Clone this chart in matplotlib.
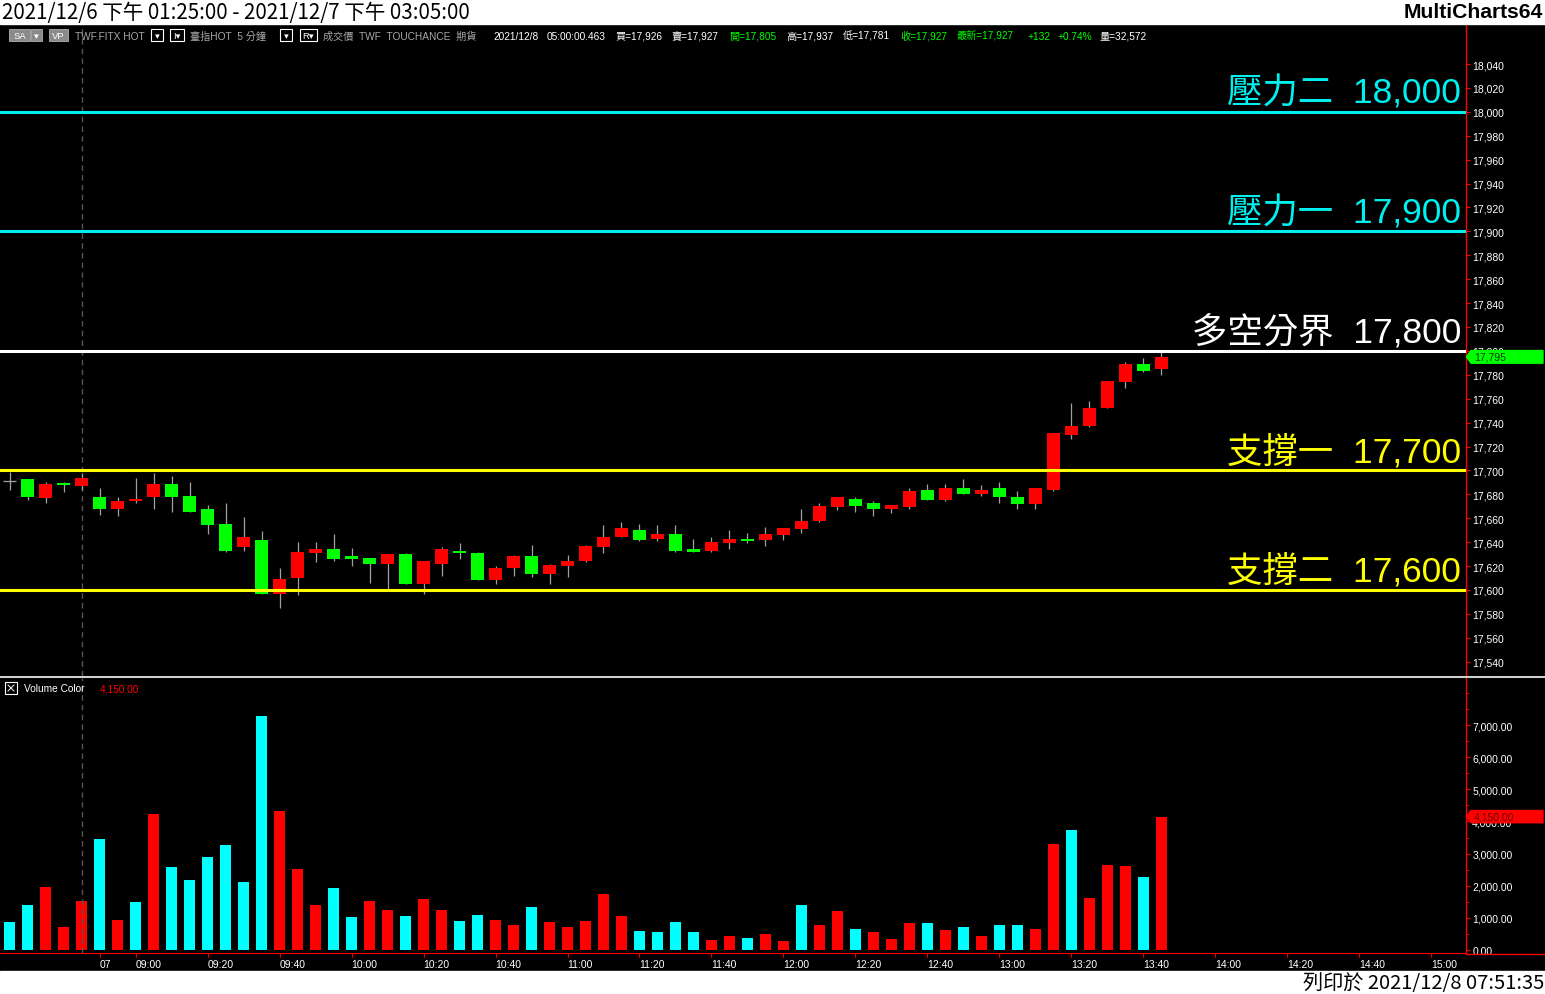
import matplotlib
matplotlib.use("Agg")
import matplotlib.pyplot as plt
from matplotlib.patches import Rectangle, Polygon
from matplotlib.ticker import MultipleLocator, FuncFormatter
from matplotlib.transforms import blended_transform_factory

# 5 分鐘 K 棒 (讀圖估計)
opens = [17691, 17693, 17677, 17689, 17687, 17678, 17668, 17674, 17678, 17689,
         17679, 17668, 17655, 17636, 17642, 17597, 17610, 17631, 17634, 17628,
         17627, 17622, 17630, 17605, 17622, 17633, 17631, 17608, 17618, 17628,
         17613, 17620, 17624, 17636, 17644, 17650, 17643, 17647, 17634, 17633,
         17639, 17643, 17642, 17646, 17651, 17658, 17669, 17676, 17673, 17668,
         17669, 17684, 17675, 17685, 17680, 17685, 17678, 17672, 17684, 17730,
         17737, 17752, 17774, 17789, 17785]
highs = [17699, 17693, 17690, 17690, 17698, 17685, 17678, 17694, 17698, 17695,
         17690, 17671, 17673, 17661, 17649, 17618, 17640, 17640, 17647, 17635,
         17627, 17630, 17631, 17624, 17636, 17639, 17632, 17620, 17629, 17638,
         17622, 17629, 17638, 17654, 17657, 17655, 17654, 17654, 17643, 17644,
         17650, 17648, 17653, 17652, 17668, 17673, 17678, 17678, 17674, 17671,
         17685, 17689, 17689, 17693, 17688, 17690, 17683, 17685, 17731, 17756,
         17758, 17775, 17791, 17794, 17799]
lows = [17684, 17675, 17673, 17682, 17684, 17663, 17662, 17673, 17668, 17665,
        17665, 17647, 17632, 17633, 17597, 17585, 17596, 17623, 17624, 17620,
        17606, 17601, 17605, 17597, 17612, 17626, 17608, 17605, 17612, 17611,
        17605, 17611, 17623, 17631, 17644, 17641, 17641, 17632, 17632, 17632,
        17634, 17639, 17637, 17642, 17648, 17657, 17667, 17665, 17662, 17664,
        17668, 17675, 17674, 17680, 17679, 17673, 17668, 17668, 17683, 17726,
        17736, 17752, 17769, 17782, 17780]
closes = [17691, 17678, 17689, 17688, 17694, 17668, 17674, 17676, 17689, 17678,
          17665, 17654, 17633, 17644, 17597, 17609, 17632, 17634, 17626, 17626,
          17622, 17630, 17605, 17624, 17634, 17631, 17608, 17618, 17628, 17613,
          17621, 17624, 17637, 17644, 17652, 17642, 17647, 17633, 17632, 17640,
          17643, 17641, 17647, 17652, 17658, 17670, 17678, 17670, 17668, 17671,
          17683, 17675, 17685, 17680, 17684, 17678, 17672, 17685, 17731, 17737,
          17752, 17775, 17789, 17783, 17795]

volumes = [870, 1400, 1960, 716, 1525, 3454, 933, 1493, 4232, 2582,
           2178, 2893, 3267, 2116, 7281, 4325, 2520, 1400, 1929, 1027,
           1525, 1245, 1058, 1587, 1245, 902, 1089, 933, 778, 1338,
           871, 716, 902, 1742, 1058, 591, 560, 871, 560, 311,
           436, 373, 498, 280, 1400, 778, 1213, 653, 560, 342,
           840, 840, 622, 716, 436, 778, 778, 653, 3298, 3734,
           1618, 2645, 2614, 2271, 4150]
# 1 = 紅量, 0 = 青量
vol_up = [0, 0, 1, 1, 1, 0, 1, 0, 1, 0,
          0, 0, 0, 0, 0, 1, 1, 1, 0, 0,
          1, 1, 0, 1, 1, 0, 0, 1, 1, 0,
          1, 1, 1, 1, 1, 0, 0, 0, 0, 1,
          1, 0, 1, 1, 0, 1, 1, 0, 1, 1,
          1, 0, 1, 0, 1, 0, 0, 1, 1, 0,
          1, 1, 1, 0, 1]

# 水平壓力 / 支撐
levels = [18000, 17900, 17800, 17700, 17600]
level_names = ['壓力二', '壓力一', '多空分界', '支撐一', '支撐二']
level_colors = ['#00F0F0', '#00F0F0', 'white', 'yellow', 'yellow']

# 時間軸: 第一根日盤 K 棒 (08:50) 的序號
day_start_idx = 5
day_start_min = 8 * 60 + 50
time_labels = ['09:00', '09:20', '09:40', '10:00', '10:20', '10:40', '11:00',
               '11:20', '11:40', '12:00', '12:20', '12:40', '13:00', '13:20',
               '13:40', '14:00', '14:20', '14:40', '15:00']

W, H, DPI = 1545, 995, 100
RED, GREEN, CYAN = '#FF0000', '#00FF00', '#00FFFF'
LATIN = ['Liberation Sans', 'Noto Sans CJK TC', 'DejaVu Sans']
CJK = ['Noto Sans CJK TC', 'DejaVu Sans']


def frect(x0, y0, x1, y1):
    # 像素框 (左上為原點) -> figure 比例
    return [x0 / W, 1 - y1 / H, (x1 - x0) / W, (y1 - y0) / H]


fig = plt.figure(figsize=(W / DPI, H / DPI), dpi=DPI, facecolor='black')
ax_p = fig.add_axes(frect(0, 25, 1466, 677), facecolor='black')
ax_v = fig.add_axes(frect(0, 679, 1466, 954), facecolor='black')

xmin, xmax = -0.53, 80.92

# K 棒
for i in range(len(opens)):
    o, h, l, c = opens[i], highs[i], lows[i], closes[i]
    ax_p.vlines(i, l, h, color='#A0A0A0', lw=0.9, zorder=2)
    if c == o:
        ax_p.hlines(c, i - 0.38, i + 0.38, color='#A0A0A0', lw=0.9, zorder=3)
        continue
    col = RED if c > o else GREEN
    ax_p.bar(i, max(abs(c - o), 1.6), bottom=min(o, c), width=0.72,
             color=col, linewidth=0, zorder=3)

# 壓力支撐線與標籤
for lv, name, col in zip(levels, level_names, level_colors):
    ax_p.axhline(lv, color=col, lw=2.2, zorder=4)
    ax_p.text(1461 / 1466, lv + 7.5, f'{name}  {lv:,}', color=col, fontsize=25.5,
              family=LATIN, ha='right', va='baseline',
              transform=blended_transform_factory(ax_p.transAxes, ax_p.transData),
              zorder=5)

ax_p.set_xlim(xmin, xmax)
ax_p.set_ylim(17528, 18073.5)
ax_p.yaxis.tick_right()
ax_p.set_yticks(range(17540, 18041, 20))
ax_p.yaxis.set_major_formatter(FuncFormatter(lambda v, p: f'{int(v):,}'))
ax_p.tick_params(axis='y', color=RED, labelcolor='white', length=3, pad=1.5,
                 labelsize=7.5)
ax_p.set_xticks([])
for lbl in ax_p.get_yticklabels():
    lbl.set_family(LATIN)

# 成交量
for i, v in enumerate(volumes):
    ax_v.bar(i, v, width=0.61, color=RED if vol_up[i] else CYAN, linewidth=0)
ax_v.set_xlim(xmin, xmax)
ax_v.set_ylim(-93, 8463)
ax_v.yaxis.tick_right()
ax_v.set_yticks(range(0, 7001, 1000))
ax_v.yaxis.set_minor_locator(MultipleLocator(500))
ax_v.yaxis.set_major_formatter(FuncFormatter(lambda v, p: f'{v:,.2f}'))
ax_v.tick_params(axis='y', which='both', color=RED, labelcolor='white',
                 length=3, pad=1.5, labelsize=7.5)
ax_v.tick_params(axis='y', which='minor', length=2)

tick_pos = [day_start_idx]
tick_txt = ['07']
for t in time_labels:
    hh, mm = t.split(':')
    tick_pos.append(day_start_idx + (int(hh) * 60 + int(mm) - day_start_min) / 5)
    tick_txt.append(t)
ax_v.set_xticks(tick_pos, tick_txt)
ax_v.tick_params(axis='x', color=RED, labelcolor='white', length=3, pad=1.5,
                 labelsize=7.5)
for lbl in ax_v.get_xticklabels() + ax_v.get_yticklabels():
    lbl.set_family(LATIN)

for lbl in ax_v.get_xticklabels():
    lbl.set_ha('left')

for ax in (ax_p, ax_v):
    for side in ('top', 'left', 'bottom'):
        ax.spines[side].set_visible(False)
    ax.spines['right'].set_color(RED)
    ax.spines['right'].set_linewidth(1)
    # 換日虛線
    ax.axvline(4, color='#555555', lw=1, ls=(0, (4, 3)), zorder=1)
ax_v.spines['bottom'].set_visible(True)
ax_v.spines['bottom'].set_color(RED)

# 覆蓋層: 標題列, 資訊列, 底部
ov = fig.add_axes([0, 0, 1, 1])
ov.set_xlim(0, W)
ov.set_ylim(H, 0)
ov.axis('off')
ov.patch.set_alpha(0)
ov.set_zorder(10)

# 最新價 / 最新量 標籤 (畫在覆蓋層, 蓋住刻度文字)
tp = blended_transform_factory(ax_p.transAxes, ax_p.transData)
last = closes[-1]
x0, x1, xa = 1 + 5 / 1466, 1 + 77 / 1466, 1 + 0.5 / 1466
ov.add_patch(Polygon([(xa, last), (x0, last + 5.3), (x1, last + 5.3),
                      (x1, last - 5.3), (x0, last - 5.3)], closed=True,
                     color=GREEN, clip_on=False, transform=tp, zorder=6))
ov.text(1 + 8 / 1466, last, f'{last:,}', color='#003300', fontsize=7.5,
        family=LATIN, va='center', transform=tp, clip_on=False, zorder=7)

tv = blended_transform_factory(ax_v.transAxes, ax_v.transData)
lv_ = volumes[-1]
ov.add_patch(Polygon([(xa, lv_), (x0, lv_ + 190), (x1, lv_ + 190),
                      (x1, lv_ - 190), (x0, lv_ - 190)], closed=True,
                     color=RED, clip_on=False, transform=tv, zorder=6))
ov.text(1 + 8 / 1466, lv_, f'{lv_:,.2f}', color='#660000', fontsize=7.5,
        family=LATIN, va='center', transform=tv, clip_on=False, zorder=7)

ov.add_patch(Rectangle((0, 0), W, 25, color='white'))
ov.add_patch(Rectangle((0, 972), W, 23, color='white'))
ov.text(2, 13, '2021/12/6 下午 01:25:00 - 2021/12/7 下午 03:05:00',
        fontsize=14.8, family=CJK, va='center', color='black')
ov.text(1543, 13, 'MultiCharts64', fontsize=15.2, family=LATIN,
        weight='bold', ha='right', va='center', color='black')
ov.text(1544, 984, '列印於 2021/12/8 07:51:35', fontsize=14.5, family=CJK,
        ha='right', va='center', color='black')

ov.plot([0, W], [678, 678], color='#D0D0D0', lw=1.5)
ov.plot([1466, W], [954.5, 954.5], color=RED, lw=1)


# 資訊列小方塊
def box(x0, x1, txt, filled):
    if filled:
        ov.add_patch(Rectangle((x0, 30), x1 - x0, 12, fc='#8A8A8A', ec='#B0B0B0', lw=0.6))
    else:
        ov.add_patch(Rectangle((x0, 30), x1 - x0, 12, fc='black', ec='white', lw=0.8))
    ov.text((x0 + x1) / 2, 36.5, txt, fontsize=6.8, color='white', family=LATIN,
            ha='center', va='center')


box(9, 30, 'SA', True)
box(31, 42, '▾', True)
box(49, 68, 'VP', True)
box(151, 163, '▾', False)
box(170, 184, 'I▾', False)
box(280, 292, '▾', False)
box(300, 317, 'R▾', False)

info = [(75, 'TWF.FITX HOT', '#A8A8A8'),
        (190, '臺指HOT  5 分鐘', '#A8A8A8'),
        (323, '成交價  TWF  TOUCHANCE  期貨', '#A8A8A8'),
        (493, '2021/12/8', 'white'),
        (547, '05:00:00.463', 'white'),
        (615, '買=17,926', 'white'),
        (672, '賣=17,927', 'white'),
        (729, '開=17,805', GREEN),
        (786, '高=17,937', 'white'),
        (843, '低=17,781', 'white'),
        (900, '收=17,927', GREEN),
        (957, '最新=17,927', GREEN),
        (1027, '+132', GREEN),
        (1057, '+0.74%', GREEN),
        (1099, '量=32,572', 'white')]
for xx, txt, col in info:
    ov.text(xx, 36.5, txt, fontsize=7.3, color=col, family=LATIN, va='center')

# 成交量圖例
ov.add_patch(Rectangle((5, 683), 12, 12, fill=False, ec='white', lw=0.8))
ov.plot([8, 14], [686, 692], color='white', lw=0.7)
ov.plot([8, 14], [692, 686], color='white', lw=0.7)
ov.text(24, 689.5, 'Volume Color', fontsize=7.3, color='white', family=LATIN, va='center')
ov.text(100, 689.5, f'{volumes[-1]:,.2f}', fontsize=7.3, color=RED, family=LATIN, va='center')

plt.savefig('out.png', dpi=DPI, facecolor='black')
